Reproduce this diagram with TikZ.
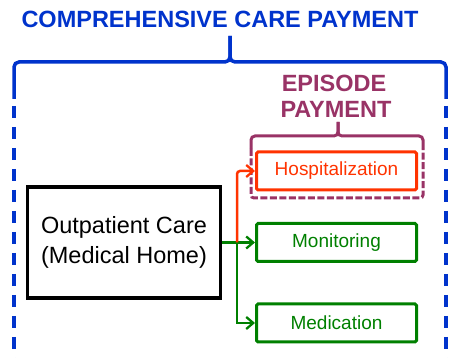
\documentclass[tikz,border=0pt]{standalone}
\usepackage{fontspec}
\setmainfont{Liberation Sans}
\usetikzlibrary{arrows.meta}

\definecolor{ccpblue}{RGB}{0,51,204}
\definecolor{epipurple}{RGB}{153,51,102}
\definecolor{hospred}{RGB}{255,51,0}
\definecolor{caregreen}{RGB}{0,128,0}

\tikzset{
  titletext/.style={font=\fontsize{23.5}{27}\selectfont\bfseries, inner sep=0pt, anchor=base},
  carebox/.style={draw, line width=3pt, rounded corners=1.5pt, minimum width=160pt, minimum height=38pt,
    inner sep=0pt, font=\fontsize{19}{23}\selectfont},
  conn/.style={line width=2.5pt, -{Straight Barb[length=7pt,width=12pt,line width=2.3pt]}},
  bluebrace/.style={ccpblue, line width=3.5pt, rounded corners=5pt},
  bluedash/.style={ccpblue, line width=3.5pt, dash pattern=on 12.5pt off 8.5pt},
  purplebrace/.style={epipurple, line width=3pt, rounded corners=4pt},
}

\begin{document}
\begin{tikzpicture}[x=1pt, y=-1pt]
  \useasboundingbox (0,0) rectangle (451,358);

  % comprehensive care payment bracket
  \node[titletext, ccpblue] (ccp) at (220,28) {COMPREHENSIVE CARE PAYMENT};
  \draw[bluebrace] (14,99) -- (14,62) -- (230,62) -- (230,36);
  \draw[bluebrace] (446,99) -- (446,62) -- (230,62) -- (230,36);
  \draw[bluedash] (14,106) -- (14,360);
  \draw[bluedash] (446,106) -- (446,360);

  % episode payment bracket
  \node[titletext, epipurple] (ep1) at (334,92) {EPISODE};
  \node[titletext, epipurple] (ep2) at (336,118) {PAYMENT};
  \draw[purplebrace] (251,149) -- (251,136) -- (338,136) -- (338,122);
  \draw[purplebrace] (423,149) -- (423,136) -- (338,136) -- (338,122);
  \draw[epipurple, line width=3pt, rounded corners=3pt, dash pattern=on 7pt off 2.5pt]
    (251,149) -- (251,198) -- (423,198) -- (423,149);

  % care components
  \node[draw, line width=3.5pt, minimum width=193pt, minimum height=111pt, inner sep=0pt,
    align=center, font=\fontsize{23.5}{29.5}\selectfont] (op) at (124,242.5)
    {Outpatient Care\\(Medical Home)};
  \node[carebox, hospred, text=hospred] (hosp) at (336.5,171) {Hospitalization};
  \node[carebox, caregreen, text=caregreen] (mon) at (336.5,242.5) {Monitoring};
  \node[carebox, caregreen, text=caregreen] (med) at (336.5,323) {Medication};

  % connectors
  \coordinate (j) at (237,242.5);
  \draw[conn, caregreen] (op.east) -- (mon.west);
  \draw[conn, caregreen] (j) |- (med.west);
  \draw[conn, hospred, rounded corners=3pt] (j) |- (hosp.west);
\end{tikzpicture}
\end{document}
